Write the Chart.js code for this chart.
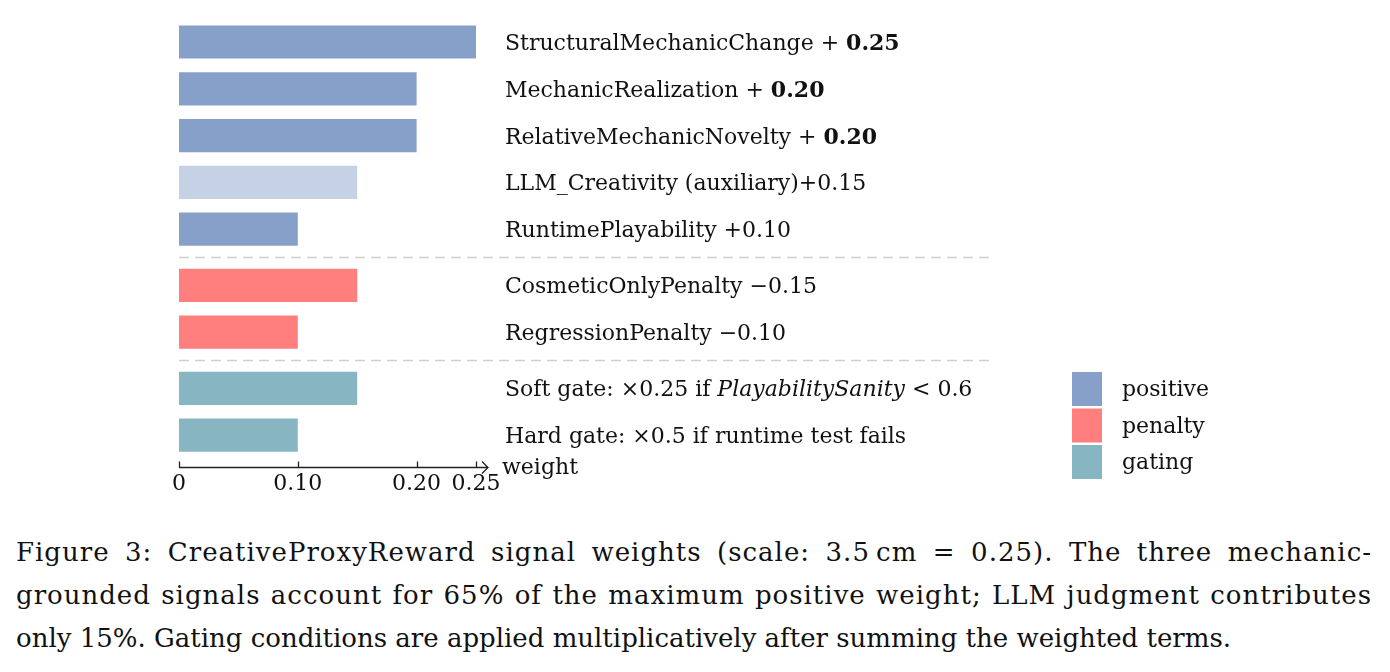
<!DOCTYPE html>
<html lang="en">
<head>
<meta charset="UTF-8">
<title>CreativeProxyReward signal weights</title>
<script src="https://cdn.jsdelivr.net/npm/chart.js"></script>
<style>
  body { margin: 0; background: #fff; }
  #wrap { position: absolute; left: 0; top: 0; width: 1390px; height: 505px; }
  #caption {
    position: absolute; left: 16px; top: 531px; width: 1356px;
    font: 26px "DejaVu Serif"; line-height: 43px; color: #111;
  }
  #caption .j { text-align: justify; text-align-last: justify; letter-spacing: 1px; }
</style>
</head>
<body>
<div id="wrap"><canvas id="myChart" width="1390" height="505"></canvas></div>
<div id="caption">
  <div class="j">Figure 3: CreativeProxyReward signal weights (scale: 3.5&#8239;cm = 0.25). The three mechanic-</div>
  <div class="j">grounded signals account for 65% of the maximum positive weight; LLM judgment contributes</div>
  <div>only 15%. Gating conditions are applied multiplicatively after summing the weighted terms.</div>
</div>
<script>
  // data
  const signals = ['StructuralMechanicChange', 'MechanicRealization', 'RelativeMechanicNovelty',
    'LLM_Creativity (auxiliary)', 'RuntimePlayability', 'CosmeticOnlyPenalty', 'RegressionPenalty',
    'Soft gate:', 'Hard gate:'];
  const weights = [0.25, 0.20, 0.20, 0.15, 0.10, 0.15, 0.10, 0.15, 0.10];
  const kinds = ['positive', 'positive', 'positive', 'auxiliary', 'positive', 'penalty', 'penalty', 'gating', 'gating'];
  // | toggles math, ^ toggles bold, * toggles italic
  const notes = [' |+ ^0.25^|', ' |+ ^0.20^|', ' |+ ^0.20^|', '|+0.15|', ' |+0.10|', ' |−0.15|', ' |−0.10|',
    ' |×0.25| if *PlayabilitySanity* |< 0.6|', ' |×0.5| if runtime test fails'];
  const tickValues = [0, 0.10, 0.20, 0.25];
  const tickLabels = ['0', '0.10', '0.20', '0.25'];
  const legendLabels = ['positive', 'penalty', 'gating'];

  const colors = { positive: '#87a0c9', auxiliary: '#c5d2e6', penalty: '#ff7f7f', gating: '#87b5c2' };
  const section = k => ({ positive: 0, auxiliary: 0, penalty: 1, gating: 2 })[k];
  // row position: one unit per row, plus a small gap between sections
  const positions = kinds.map((k, i) => i + section(k) * 0.2);

  const SERIF = '"DejaVu Serif"';

  function drawRich(ctx, str, x, y) {
    let math = false, bold = false, ital = false, buf = '';
    const flush = () => {
      if (!buf) return;
      if (math) ctx.font = (bold ? 'bold ' : '') + '22px ' + SERIF;
      else ctx.font = (ital ? 'italic ' : '') + '22px ' + SERIF;
      ctx.fillText(buf, x, y);
      x += ctx.measureText(buf).width * (math && buf.trim() === '' ? 0.4 : 1);
      buf = '';
    };
    for (const ch of str) {
      if (ch === '|') { flush(); math = !math; }
      else if (ch === '^') { flush(); bold = !bold; }
      else if (ch === '*') { flush(); ital = !ital; }
      else buf += ch;
    }
    flush();
  }

  const decorations = {
    id: 'decorations',
    afterDraw(chart) {
      const { ctx, scales: { x, y }, chartArea } = chart;
      ctx.save();

      // dashed separators between sections
      ctx.strokeStyle = '#cfcfcf';
      ctx.lineWidth = 1.5;
      ctx.setLineDash([10, 6]);
      for (let i = 1; i < kinds.length; i++) {
        if (section(kinds[i]) !== section(kinds[i - 1])) {
          const yy = Math.round(y.getPixelForValue((positions[i] + positions[i - 1]) / 2)) + 0.5;
          ctx.beginPath();
          ctx.moveTo(chartArea.left, yy);
          ctx.lineTo(995, yy);
          ctx.stroke();
        }
      }
      ctx.setLineDash([]);

      // x axis with arrow and inward ticks
      const ay = chartArea.bottom + 0.5;
      const xEnd = x.getPixelForValue(x.max) + 12;
      ctx.strokeStyle = '#222';
      ctx.lineWidth = 1.3;
      ctx.beginPath();
      ctx.moveTo(x.getPixelForValue(0), ay);
      ctx.lineTo(xEnd, ay);
      ctx.moveTo(xEnd - 6, ay - 6);
      ctx.lineTo(xEnd, ay);
      ctx.lineTo(xEnd - 6, ay + 6);
      tickValues.forEach(v => {
        const px = Math.round(x.getPixelForValue(v)) + 0.5;
        ctx.moveTo(px, ay);
        ctx.lineTo(px, ay - 6);
      });
      ctx.stroke();
      ctx.fillStyle = '#111';
      ctx.font = '22px ' + SERIF;
      ctx.textBaseline = 'alphabetic';
      ctx.fillText('weight', xEnd + 14, ay + 6);

      // labels to the right of the bars
      const lx = x.getPixelForValue(x.max) + 29;
      signals.forEach((s, i) => {
        const cy = y.getPixelForValue(positions[i]);
        drawRich(ctx, s + notes[i], lx, cy + 8);
      });

      // legend
      legendLabels.forEach((l, i) => {
        const top = 372 + i * 36.5;
        ctx.fillStyle = colors[l];
        ctx.fillRect(1072, top, 30, 34);
        ctx.fillStyle = '#111';
        ctx.font = '22px ' + SERIF;
        ctx.fillText(l, 1122, top + 24);
      });
      ctx.restore();
    }
  };

  const ctx = document.getElementById('myChart').getContext('2d');
  new Chart(ctx, {
    type: 'bar',
    data: {
      datasets: [{
        data: weights.map((w, i) => ({ x: w, y: positions[i] })),
        backgroundColor: kinds.map(k => colors[k]),
        borderWidth: 0,
        barPercentage: 0.71,
        categoryPercentage: 1
      }]
    },
    options: {
      indexAxis: 'y',
      responsive: false,
      animation: false,
      layout: { padding: { left: 179, right: 914, top: 18.6, bottom: 5 } },
      plugins: { legend: { display: false }, tooltip: { enabled: false } },
      scales: {
        x: {
          type: 'linear',
          min: 0,
          max: 0.25,
          grid: { display: false, drawTicks: false },
          border: { display: false },
          afterBuildTicks: s => { s.ticks = tickValues.map(v => ({ value: v })); },
          afterFit: s => { s.height = 33; },
          ticks: {
            autoSkip: false,
            maxRotation: 0,
            padding: 4,
            color: '#111',
            font: { family: 'DejaVu Serif', size: 22 },
            callback: (v, i) => tickLabels[i]
          }
        },
        y: {
          type: 'linear',
          reverse: true,
          min: -0.5,
          max: 9.08,
          offset: false,
          display: false,
          grid: { offset: false },
          afterBuildTicks: s => { s.ticks = positions.map(v => ({ value: v })); }
        }
      }
    },
    plugins: [decorations]
  });
</script>
</body>
</html>
